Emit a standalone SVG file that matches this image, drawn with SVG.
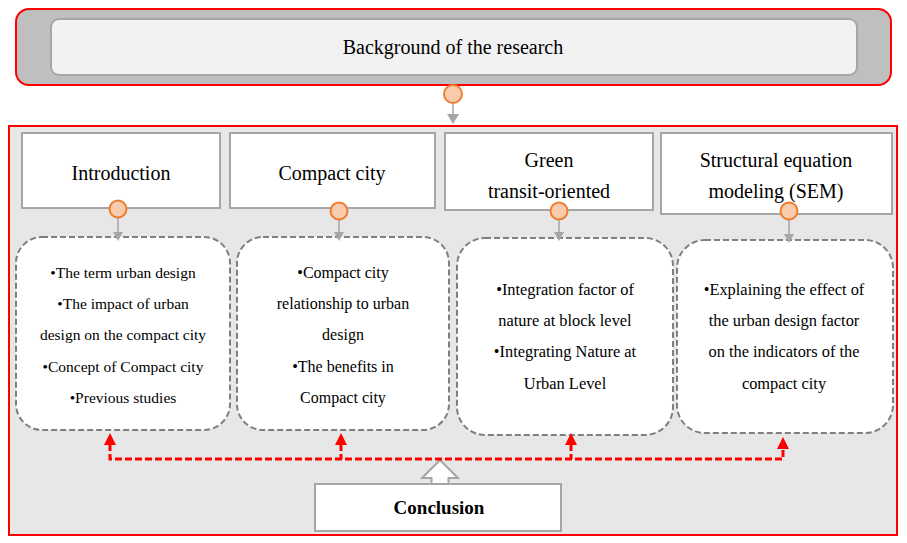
<svg xmlns="http://www.w3.org/2000/svg" width="907" height="543" viewBox="0 0 907 543">
<style>
text{fill:#000;text-anchor:middle}
.hdr{font-size:20px}
.body{font-size:15.5px}
.head{fill:#fff;stroke:#a6a6a6;stroke-width:2}
.dash{fill:#fff;stroke:#7f7f7f;stroke-width:2;stroke-dasharray:6,3}
.dot{fill:#f8cbad;stroke:#ed7d31;stroke-width:2}
.gl{stroke:#a6a6a6;stroke-width:1.5;fill:none}
.ga{fill:#a6a6a6}
.rl{stroke:#ff0000;stroke-width:3;fill:none;stroke-dasharray:7,3}
.ra{fill:#ff0000}
</style>
<rect width="907" height="543" fill="#fff"/>
<g font-family="Liberation Serif, Tinos, Times New Roman, DejaVu Serif, serif">
<g id="background">
<rect x="16" y="9" width="875" height="76" rx="13" fill="#bfbfbf" stroke="#ff0000" stroke-width="2"/>
<rect x="51" y="19" width="806" height="56" rx="8" fill="#f2f2f2" stroke="#a6a6a6" stroke-width="2"/>
<text x="453" y="54" style="font-size:20px">Background of the research</text>
</g>
<g id="container">
<rect x="9" y="126" width="888" height="409" fill="#e7e7e7" stroke="#ff0000" stroke-width="2"/>
</g>
<g id="introduction">
<rect class="head" x="22" y="133" width="198" height="75"/>
<text class="hdr" x="121" y="180">Introduction</text>
</g>
<g id="compact-city">
<rect class="head" x="230" y="133" width="205" height="75"/>
<text class="hdr" x="332" y="180">Compact city</text>
</g>
<g id="green-transit">
<rect class="head" x="445" y="133" width="208" height="77"/>
<text class="hdr" x="549" y="167">Green</text>
<text class="hdr" x="549" y="198">transit-oriented</text>
</g>
<g id="sem">
<rect class="head" x="661" y="133" width="231" height="81"/>
<text class="hdr" x="776" y="167">Structural equation</text>
<text class="hdr" x="776" y="198">modeling (SEM)</text>
</g>
<g id="intro-detail">
<rect class="dash" x="16" y="237" width="214" height="193" rx="26"/>
<text class="body" x="123" y="278">•The term urban design</text>
<text class="body" x="123" y="309">•The impact of urban</text>
<text class="body" x="123" y="340">design on the compact city</text>
<text class="body" x="123" y="372">•Concept of Compact city</text>
<text class="body" x="123" y="403">•Previous studies</text>
</g>
<g id="compact-detail">
<rect class="dash" x="237" y="237" width="212" height="193" rx="26"/>
<text class="body" x="343" y="278" style="font-size:16px">•Compact city</text>
<text class="body" x="343" y="309" style="font-size:16px">relationship to  urban</text>
<text class="body" x="343" y="340" style="font-size:16px">design</text>
<text class="body" x="343" y="372" style="font-size:16px">•The benefits in</text>
<text class="body" x="343" y="403" style="font-size:16px">Compact city</text>
</g>
<g id="green-detail">
<rect class="dash" x="457" y="238" width="216" height="197" rx="28"/>
<text class="body" x="565" y="295" style="font-size:16.4px">•Integration factor of</text>
<text class="body" x="565" y="326" style="font-size:16.4px">nature at block level</text>
<text class="body" x="565" y="357" style="font-size:16.4px">•Integrating Nature at</text>
<text class="body" x="565" y="389" style="font-size:16.4px">Urban Level</text>
</g>
<g id="sem-detail">
<rect class="dash" x="677" y="240" width="216" height="193" rx="28"/>
<text class="body" x="784" y="295" style="font-size:16.4px">•Explaining the effect of</text>
<text class="body" x="784" y="326" style="font-size:16.4px">the urban design factor</text>
<text class="body" x="784" y="357" style="font-size:16.4px">on the indicators of the</text>
<text class="body" x="784" y="389" style="font-size:16.4px">compact city</text>
</g>
<g id="conclusion">
<path d="M440 460 L458 478 L448.5 478 L448.5 485 L431.5 485 L431.5 478 L422 478 Z" fill="#fff" stroke="#a6a6a6" stroke-width="2"/>
<rect x="315" y="484" width="246" height="47" fill="#fff" stroke="#a6a6a6" stroke-width="2"/>
<text x="439" y="514" style="font-size:19px;font-weight:bold">Conclusion</text>
</g>
</g>
<g id="connectors">
<line class="gl" x1="453" y1="103" x2="453" y2="115"/>
<path class="ga" d="M447 114 L459 114 L453 124 Z"/>
<ellipse class="dot" cx="453" cy="94" rx="9" ry="9"/>
<line class="gl" x1="118" y1="217" x2="118" y2="233"/>
<path class="ga" d="M113 232 L123 232 L118 241 Z"/>
<circle class="dot" cx="118" cy="209" r="8.5"/>
<line class="gl" x1="339" y1="219" x2="339" y2="233"/>
<path class="ga" d="M334 232 L344 232 L339 241 Z"/>
<circle class="dot" cx="339" cy="211" r="8.5"/>
<line class="gl" x1="559" y1="219" x2="559" y2="233"/>
<path class="ga" d="M554 232 L564 232 L559 241 Z"/>
<circle class="dot" cx="559" cy="211" r="8.5"/>
<line class="gl" x1="789" y1="219" x2="789" y2="235"/>
<path class="ga" d="M784 234 L794 234 L789 243 Z"/>
<circle class="dot" cx="789" cy="211" r="8.5"/>
<path class="rl" d="M110 444 V459 H783 V448 M341 444 V459 M571 444 V459"/>
<path class="ra" d="M104 445 L116 445 L110 433 Z"/>
<path class="ra" d="M335 445 L347 445 L341 433 Z"/>
<path class="ra" d="M565 445 L577 445 L571 433 Z"/>
<path class="ra" d="M777 449 L789 449 L783 437 Z"/>
</g>
</svg>
